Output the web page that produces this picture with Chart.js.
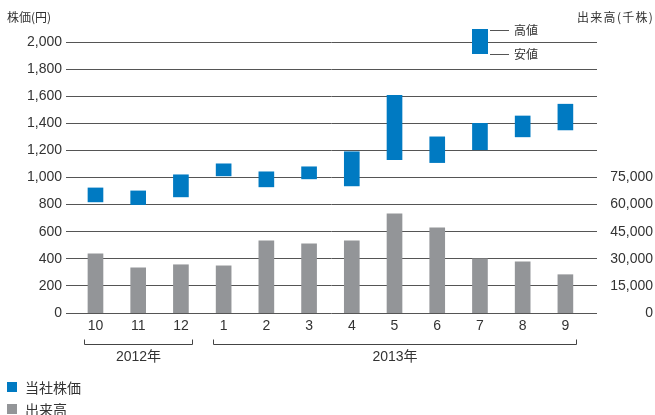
<!DOCTYPE html>
<html><head><meta charset="utf-8">
<script src="https://cdn.jsdelivr.net/npm/chart.js@4"></script>
<style>
html,body{margin:0;padding:0;background:#fff;}
#wrap{position:relative;width:655px;height:415px;overflow:hidden;}
canvas{position:absolute;left:0;top:0;}
.t{position:absolute;white-space:nowrap;font-family:'Noto Sans CJK JP',sans-serif;line-height:1;color:#333;}
.sw{position:absolute;}
.ln{position:absolute;height:1px;background:#555;}
</style></head><body>
<div id="wrap">
<canvas id="c" width="655" height="415"></canvas>
<div class="t" style="left:7px;top:11px;font-size:12px">株価(円)</div>
<div class="t" style="left:577px;top:11px;font-size:12px;letter-spacing:1.3px">出来高(千株)</div>
<div class="sw" style="left:472px;top:29px;width:16px;height:25px;background:#007AC2"></div>
<div class="ln" style="left:490px;top:30px;width:19px"></div>
<div class="ln" style="left:490px;top:54px;width:19px"></div>
<div class="t" style="left:514px;top:24px;font-size:12px">高値</div>
<div class="t" style="left:514px;top:48px;font-size:12px">安値</div>
<div class="sw" style="left:7px;top:382px;width:10px;height:10px;background:#007AC2"></div>
<div class="t" style="left:25px;top:380px;font-size:14px">当社株価</div>
<div class="sw" style="left:7px;top:404px;width:10px;height:10px;background:#939598"></div>
<div class="t" style="left:25px;top:402px;font-size:14px">出来高</div>
</div>
<script>
const categories = ['10','11','12','1','2','3','4','5','6','7','8','9'];
const priceHigh = [923, 901, 1020, 1101, 1042, 1079, 1190, 1607, 1300, 1400, 1454, 1541];
const priceLow  = [820, 800, 857, 1012, 931, 990, 938, 1131, 1110, 1205, 1300, 1351];
const volume    = [32800, 25000, 26700, 26100, 40000, 38300, 40000, 54900, 47100, 30000, 28300, 21200];
const priceTicks = [0,200,400,600,800,1000,1200,1400,1600,1800,2000];
const volumeTicks = [0,15000,30000,45000,60000,75000];
const yearGroups = [
  {label:'2012年', from:0, to:2},
  {label:'2013年', from:3, to:11}
];

const BLUE = '#007AC2', GRAY = '#939598';
const fnt = "'Liberation Sans','Noto Sans CJK JP',sans-serif";

const bracketPlugin = {
  id: 'years',
  afterDraw(chart){
    const x = chart.scales.x, ctx = chart.ctx;
    ctx.save();
    ctx.strokeStyle = '#444'; ctx.lineWidth = 1;
    ctx.fillStyle = '#333';
    ctx.font = "14px " + fnt;
    ctx.textAlign = 'center'; ctx.textBaseline = 'middle';
    yearGroups.forEach(g => {
      const x1 = Math.round(x.getPixelForValue(g.from - 0.26)) + 0.5;
      const x2 = Math.round(x.getPixelForValue(g.to + 0.26)) + 0.5;
      ctx.beginPath();
      ctx.moveTo(x1, 339.5); ctx.lineTo(x1, 344.5); ctx.lineTo(x2, 344.5); ctx.lineTo(x2, 339.5);
      ctx.stroke();
      ctx.fillText(g.label, (x1 + x2) / 2, 357);
    });
    ctx.restore();
  }
};

new Chart(document.getElementById('c'), {
  type: 'bar',
  data: {
    datasets: [
      {
        label: '当社株価',
        data: categories.map((c,i) => ({x:i, y:[priceLow[i], priceHigh[i]]})),
        backgroundColor: BLUE,
        yAxisID: 'y',
        grouped: false,
        barThickness: 15,
        borderWidth: 0
      },
      {
        label: '出来高',
        data: categories.map((c,i) => ({x:i, y:volume[i]})),
        backgroundColor: GRAY,
        yAxisID: 'y2',
        grouped: false,
        barThickness: 15,
        borderWidth: 0
      }
    ]
  },
  options: {
    responsive: false,
    animation: false,
    devicePixelRatio: 1,
    layout: { padding: { top: 42, right: 2, bottom: 78, left: 0 } },
    plugins: { legend: { display: false }, tooltip: { enabled: false } },
    scales: {
      x: {
        type: 'linear',
        offset: false,
        min: -0.69, max: 11.74,
        afterBuildTicks(s){ s.ticks = categories.map((c,i) => ({value:i})); },
        afterFit(s){ s.height = 24; },
        grid: { display: false, drawTicks: false },
        border: { display: false },
        ticks: {
          padding: 5,
          color: '#333',
          font: { family: fnt, size: 14 },
          maxRotation: 0, autoSkip: false,
          callback: (v) => categories[v] ?? ''
        }
      },
      y: {
        position: 'left',
        min: 0, max: 2000,
        afterBuildTicks(s){ s.ticks = priceTicks.map(v => ({value:v})); },
        afterFit(s){ s.width = 66; },
        grid: { color: '#555', lineWidth: 1, drawTicks: false },
        border: { display: false },
        ticks: {
          padding: 4,
          color: '#333',
          font: { family: fnt, size: 14 },
          callback: (v) => v.toLocaleString('en-US')
        }
      },
      y2: {
        position: 'right',
        min: 0, max: 150000,
        afterBuildTicks(s){ s.ticks = volumeTicks.map(v => ({value:v})); },
        afterFit(s){ s.width = 56; },
        grid: { display: false, drawTicks: false },
        border: { display: false },
        ticks: {
          padding: 12,
          crossAlign: 'far',
          color: '#333',
          font: { family: fnt, size: 14 },
          callback: (v) => v.toLocaleString('en-US')
        }
      }
    }
  },
  plugins: [bracketPlugin]
});
</script>
</body></html>
